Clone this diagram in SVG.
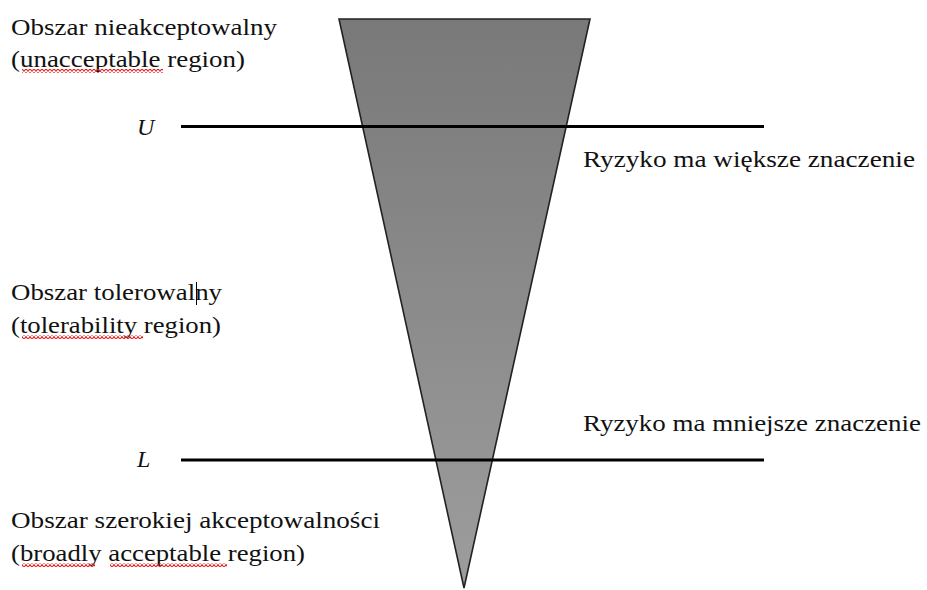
<svg xmlns="http://www.w3.org/2000/svg" width="927" height="590" viewBox="0 0 927 590">
  <style>
    .lbl { font-family: "Liberation Serif", "Times New Roman", serif; font-size: 23.5px; fill: #111; }
    .var { font-family: "Liberation Serif", "Times New Roman", serif; font-size: 24px; font-style: italic; fill: #111; }
    .limit { stroke: #000; stroke-width: 2.8; }
  </style>
  <defs>
    <linearGradient id="coneFill" x1="0" y1="0" x2="0" y2="1">
      <stop offset="0" stop-color="#797979"/>
      <stop offset="1" stop-color="#9d9d9d"/>
    </linearGradient>
    <pattern id="squiggle" width="4" height="4" patternUnits="userSpaceOnUse">
      <path d="M0,3.5 L2,0.5 L4,3.5" fill="none" stroke="#e52020" stroke-width="1.1"/>
    </pattern>
  </defs>

  <!-- risk cone -->
  <g id="cone">
    <polygon points="339,19 590,19 464,588" fill="url(#coneFill)" stroke="#222" stroke-width="1.6" stroke-linejoin="miter"/>
  </g>

  <!-- tolerance limits -->
  <g id="limits">
    <line class="limit" x1="181" y1="126.5" x2="764" y2="126.5"/>
    <line class="limit" x1="181" y1="460" x2="764" y2="460"/>
  </g>

  <g id="limit-U">
    <text class="var" x="137" y="135">U</text>
  </g>
  <g id="limit-L">
    <text class="var" x="137" y="467">L</text>
  </g>

  <g id="region-unacceptable">
    <text class="lbl" x="11" y="35" textLength="266" lengthAdjust="spacingAndGlyphs">Obszar nieakceptowalny</text>
    <text class="lbl" x="11" y="67" textLength="234" lengthAdjust="spacingAndGlyphs">(unacceptable region)</text>
    <rect x="22" y="69" width="141" height="4" fill="url(#squiggle)"/>
  </g>

  <g id="region-tolerable">
    <text class="lbl" x="11" y="300" textLength="211" lengthAdjust="spacingAndGlyphs">Obszar tolerowalny</text>
    <line x1="196.5" y1="282" x2="196.5" y2="305" stroke="#000" stroke-width="1"/>
    <text class="lbl" x="11" y="333" textLength="210" lengthAdjust="spacingAndGlyphs">(tolerability region)</text>
    <rect x="22" y="335" width="121" height="4" fill="url(#squiggle)"/>
  </g>

  <g id="region-acceptable">
    <text class="lbl" x="11" y="528" textLength="369" lengthAdjust="spacingAndGlyphs">Obszar szerokiej akceptowalności</text>
    <text class="lbl" x="11" y="561" textLength="294" lengthAdjust="spacingAndGlyphs">(broadly acceptable region)</text>
    <rect x="22" y="563" width="73" height="4" fill="url(#squiggle)"/>
    <rect x="110" y="563" width="117" height="4" fill="url(#squiggle)"/>
  </g>

  <g id="note-higher">
    <text class="lbl" x="583" y="167" textLength="332" lengthAdjust="spacingAndGlyphs">Ryzyko ma większe znaczenie</text>
  </g>
  <g id="note-lower">
    <text class="lbl" x="583" y="431" textLength="338" lengthAdjust="spacingAndGlyphs">Ryzyko ma mniejsze znaczenie</text>
  </g>
</svg>
